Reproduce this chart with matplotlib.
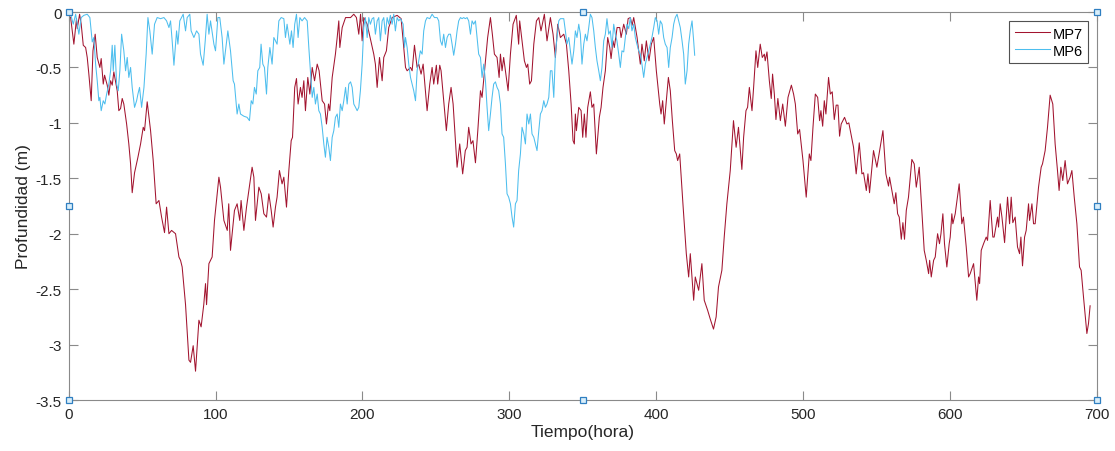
import matplotlib
matplotlib.use("Agg")
import matplotlib.pyplot as plt
from matplotlib.ticker import FuncFormatter

# MP7 series (hours, depth in m)
mp7_horas = [
    0, 1.4, 3.6, 5.4, 5.9, 7.5, 8.6, 10, 11.6, 12.7,
    13.8, 15.4, 16.6, 18.1, 19.5, 21.3, 22.2, 23.6, 24.5, 26.3,
    27.4, 28.6, 29.7, 30.8, 33.1, 34.2, 35.4, 36.5, 37.6, 39.5,
    41, 42.2, 43.3, 44.9, 47.2, 49, 50.8, 51.7, 53.5, 55.8,
    57.6, 59.6, 61.5, 63.3, 65.3, 66.7, 68.3, 70.1, 72.8, 75.1,
    76.2, 77.3, 79.6, 81.9, 83, 84.8, 86.4, 88.7, 90.2, 92,
    93.2, 93.9, 95.5, 97.7, 99.3, 102.3, 103.4, 105.7, 108, 109,
    110.2, 112.9, 114.7, 116.5,
    117.4, 119.3, 121.1, 122.7, 124.9, 126.1, 127.2, 129.5, 131.1, 132.9,
    134.7, 136.3, 137.9, 139.2, 140.8, 141.9, 143.5, 145.3, 146.5, 148.3,
    149.9, 151.5, 152.4, 153.9, 155.1, 156.2, 157.8, 158.9, 160.1, 161.2,
    162.8, 164.2, 165.8, 167.4, 169.2, 170.5, 172.6, 174.2, 175.5, 176.9,
    177.8, 179.4, 181.6, 182.8, 183.9, 184.6, 186.2, 188.5, 191.9, 194.1,
    195.9, 197.5, 198.7, 199.8, 200.9, 203.2, 207.7, 208.8, 210, 211.6,
    213.4, 214.5, 216.3, 217.9, 220.2, 223.6, 226.3, 227.7, 229.3, 230.4,
    232.7, 233.8, 235.4, 237.2, 238.3, 239.9, 241.3, 244, 245.8, 247.4,
    248.5, 250.3, 251.2, 252.6, 253.5, 255.3, 257.1, 258.7, 260.3, 261.7,
    264.4, 266.2, 268.2, 270, 271.2, 272.3, 273.9, 275.2, 276.9, 278.5,
    280.3, 281.4, 283.7, 285.2, 287.1, 288.4, 289.8, 291.6, 293, 293.9,
    295, 296.1, 297.7, 299.1, 300.7, 302.5, 304.7, 306.3, 307, 308.6,
    310.2, 311.6, 312.5, 313.8, 315, 316.6, 318.4, 320, 321.5, 323.8,
    325.6, 327.9, 329.7, 331.3, 332.9, 334.7, 337, 338.8, 340.4, 342,
    343.3, 344.2,
    344.9, 345.6, 347.2, 348.8, 349.9, 351, 352.1, 353.3,
    355.1, 356.2, 357.4, 359.2, 361.2, 362.4, 363.7, 365.3, 366.9, 368.3,
    369.2, 370.5, 371.4, 373.3, 375.1, 376, 377.8, 379.6, 380.8, 382.3,
    383.5, 384.6, 386.9, 389.1, 390.2, 391.8, 393.2, 395, 396.6, 398.2,
    400, 402.3, 403.2, 404.3, 405.4, 406.6, 408.2, 409.5, 410.9, 412.5,
    413.6, 414.5, 415.9, 418.1, 420.4, 422, 423.1, 425.4, 426.5, 428.8,
    431, 432.6, 434.9, 436.7, 438.9, 440.7, 442.3, 444.6, 446.2, 448,
    450.3, 452.5, 454.3, 455.9, 458.2,
    459.4, 461, 462.1, 463.3, 465.1, 466.2, 467.8, 469, 470.7, 472.1,
    473.5, 474.1, 475.3, 476.9, 478.2, 479.1, 480.3, 481.4, 482.7, 484.4,
    486, 487.8, 489.6, 491.9, 493.4, 494.6, 496.2, 497.5, 499.8, 502,
    504.1, 505.2, 506.6, 508.2, 509.8, 511.1, 512, 513.2, 514.3, 515.4,
    517.2, 518.4, 519.7, 521.1, 522.4, 523.6, 524.7, 525.8, 528.1, 529.7,
    531, 534.2, 536, 538.1, 539.9, 541, 542.9, 544, 545.1, 547.8,
    550.1, 554.2, 556.2, 558, 558.7, 561.9, 563, 564.2, 565.3, 566.7,
    567.8, 568.9, 570.1, 571.6, 573.9, 575.5, 576.9, 578.9,
    580.7, 582.3, 583.7, 585.3, 586, 587.1, 588.7, 589.8, 591.4, 592.7,
    593.7, 595, 596.1, 597.7, 599.3, 600, 601.1, 601.8, 603.4, 606.1,
    607.9, 609, 610.9, 612.5, 613.6, 615.9, 618.1, 619.3, 620, 621.1,
    622.7, 624.5, 625.4, 627.2, 629, 629.9, 632.2, 632.9, 634, 635.2,
    637, 639, 640.4, 641.5, 642.6, 644.2, 645.8, 647.2, 648.1, 649.2,
    650.6, 651.7, 653.3, 654, 655.6, 656.7, 657.8, 660.1, 661.9, 662.8,
    664.6, 666.2, 668, 669.8, 671.4, 673, 674.1, 675.3, 676.6, 678.2,
    679.8, 681.6, 682.8, 684.4, 686.2, 688, 689.1, 690.7, 693, 694.1,
    695.2,
]
mp7_prof = [
    -0.03, -0.05, -0.29, -0.06, -0.15, -0.02, -0.11, -0.30, -0.32, -0.41,
    -0.56, -0.80, -0.35, -0.20, -0.41, -0.50, -0.42, -0.65, -0.57, -0.66,
    -0.75, -0.62, -0.66, -0.54, -0.71, -0.89, -0.87, -0.78, -0.83, -1.01,
    -1.19, -1.37, -1.63, -1.45, -1.31, -1.19, -1.04, -1.07, -0.81, -1.07,
    -1.34, -1.73, -1.70, -1.85, -1.99, -1.76, -2.00, -1.97, -2.00, -2.21,
    -2.24, -2.30, -2.64, -3.14, -3.16, -3.01, -3.24, -2.78, -2.84, -2.64,
    -2.45, -2.64, -2.27, -2.21, -1.88, -1.49, -1.58, -1.88, -1.97, -1.73,
    -2.15, -1.79, -1.73, -1.88,
    -1.70, -1.97, -1.76, -1.61, -1.40, -1.49, -1.88, -1.58, -1.64, -1.82,
    -1.85, -1.64, -1.79, -1.94, -1.76, -1.67, -1.43, -1.55, -1.49, -1.76,
    -1.43, -1.16, -1.13, -0.68, -0.60, -0.83, -0.68, -0.77, -0.62, -0.89,
    -0.59, -0.74, -0.50, -0.62, -0.47, -0.53, -0.80, -0.83, -1.01, -0.83,
    -0.89, -0.59, -0.38, -0.23, -0.08, -0.32, -0.14, -0.05, -0.05, -0.02,
    -0.05, -0.20, -0.02, -0.26, -0.05, -0.11, -0.38, -0.47, -0.68, -0.41,
    -0.62, -0.41, -0.35, -0.14, -0.05, -0.03, -0.06, -0.26, -0.50, -0.53,
    -0.50, -0.53, -0.30, -0.50, -0.47, -0.56, -0.47, -0.89, -0.65, -0.50,
    -0.65, -0.48, -0.65, -0.48, -0.53, -0.80, -1.07, -0.83, -0.68, -0.83,
    -1.40, -1.19, -1.46, -1.25, -1.22, -1.04, -1.19, -1.16, -1.36, -1.07,
    -0.71, -0.77, -0.44, -0.23, -0.05, -0.20, -0.38, -0.41, -0.59, -0.38,
    -0.53, -0.41, -0.57, -0.71, -0.38, -0.11, -0.03, -0.29, -0.08, -0.26,
    -0.44, -0.50, -0.47, -0.65, -0.62, -0.29, -0.08, -0.05, -0.17, -0.02,
    -0.26, -0.05, -0.20, -0.41, -0.11, -0.23, -0.20, -0.29, -0.53, -0.83,
    -1.16, -1.19,
    -0.92, -1.07, -0.86, -0.89, -1.13, -0.92, -1.13, -0.86,
    -0.72, -0.86, -0.83, -1.28, -0.95, -0.86, -0.68, -0.53, -0.23, -0.32,
    -0.42, -0.26, -0.32, -0.14, -0.14, -0.23, -0.11, -0.20, -0.06, -0.05,
    -0.12, -0.05, -0.23, -0.47, -0.29, -0.44, -0.26, -0.44, -0.29, -0.23,
    -0.53, -0.83, -0.92, -0.80, -1.01, -0.83, -0.59, -0.71, -0.98, -1.25,
    -1.28, -1.34, -1.28, -1.73, -2.18, -2.39, -2.18, -2.60, -2.39, -2.51,
    -2.27, -2.60, -2.69, -2.77, -2.86, -2.75, -2.48, -2.33, -2.03, -1.73,
    -1.43, -0.98, -1.22, -1.04, -1.42,
    -1.13, -0.89, -0.86, -0.68, -0.89, -0.68, -0.35, -0.50, -0.29, -0.41,
    -0.38, -0.44, -0.36, -0.62, -0.78, -0.56, -0.74, -0.97, -0.78, -0.98,
    -0.83, -1.03, -0.77, -0.66, -0.74, -0.83, -1.10, -1.06, -1.34, -1.67,
    -1.28, -1.34, -1.04, -0.74, -0.77, -0.98, -0.89, -1.03, -0.80, -0.92,
    -0.59, -0.74, -0.72, -0.97, -0.84, -0.84, -1.12, -1.01, -0.95, -1.01,
    -1.00, -1.22, -1.46, -1.18, -1.46, -1.45, -1.61, -1.46, -1.63, -1.25,
    -1.40, -1.07, -1.46, -1.57, -1.49, -1.73, -1.63, -1.82, -1.85, -2.05,
    -1.90, -2.05, -1.79, -1.67, -1.33, -1.37, -1.58, -1.40,
    -1.79, -2.15, -2.24, -2.36, -2.24, -2.39, -2.24, -2.21, -2.00, -2.09,
    -2.00, -1.82, -2.09, -2.30, -2.09, -2.03, -1.82, -1.91, -1.82, -1.55,
    -1.91, -1.85, -2.12, -2.39, -2.36, -2.27, -2.60, -2.39, -2.45, -2.15,
    -2.09, -2.03, -2.06, -1.70, -2.03, -2.03, -1.85, -1.94, -1.73, -1.85,
    -2.08, -1.67, -1.91, -1.67, -1.90, -1.85, -2.12, -2.18, -2.03, -2.29,
    -2.03, -1.97, -1.73, -1.88, -1.73, -1.91, -1.91, -1.58, -1.40, -1.37,
    -1.25, -1.04, -0.75, -0.83, -1.19, -1.43, -1.61, -1.40, -1.52, -1.34,
    -1.55, -1.49, -1.43, -1.67, -1.91, -2.30, -2.33, -2.57, -2.90, -2.81,
    -2.65,
]

# MP6 series (hours, depth in m)
mp6_horas = [
    0, 1.4, 3.2, 4.8, 5.9, 7, 8.6, 10.4, 12.7, 14.5,
    16.1, 17.2, 18.4, 19.5, 20.6, 21.3, 22.2, 23.6, 24.7, 25.9,
    27.4, 28.6, 29.7, 30.4, 31.5, 32.7, 33.8, 34.9, 36.1, 37.6,
    38.8, 39.9, 41, 42.2, 43.3, 44.9, 46.3, 47.2, 48.3, 49.7,
    51.3, 52.8, 54, 55.3, 56.9, 58.5, 60.3, 62.6, 64.9, 66.7,
    68.3, 69.4, 70.5, 71.7, 73.5, 74.4, 75.7, 78, 79.6, 80.7,
    82.5, 83.4, 85.3, 87.1, 88.7, 89.8, 91.6, 93, 94.3, 95.5,
    96.6, 98.9, 100, 101.6, 102.9, 104.5, 105.7, 107.3, 108.4, 110.2,
    112, 112.9, 114.7,
    115.9, 117, 119.3, 121.5, 123.1, 124.3, 125.4, 126.5, 127.7, 128.8,
    130.1, 131, 132.2, 133.3, 134.7, 135.6, 137, 138.5, 139.7, 140.8,
    141.9, 143.1, 144.7, 146.5, 147.6, 148.7, 150.6, 151.7, 152.8, 153.9,
    155.1, 156.2, 157.4, 158.9, 160.6, 162.4, 163.5, 164.6, 165.8, 166.9,
    168, 169.2, 170.3, 171.4, 172.6, 173.7, 174.8, 175.9, 177.1, 178.2,
    179.4, 180.5, 181.6, 182.8, 183.9, 185, 186.2, 187.3, 188.5, 189.6,
    190.7, 191.9, 193, 194.1, 195.3, 196.4, 197.5, 198.6, 199.8, 200.9,
    202, 203.2, 204.3, 205.4, 206.6, 207.7, 208.8, 210, 211.1, 212.2,
    213.4, 214.5, 215.6, 216.8, 217.9, 219, 220.2, 221.3, 222.4, 223.6,
    224.7, 225.9,
    227.7, 228.6, 229.3, 230.4, 231.5, 232.7, 233.8, 234.9, 236.1, 237.2,
    238.3, 239.4, 240.6, 241.7, 242.9, 244, 245.8, 247.4, 249, 250.8,
    251.9, 253.1, 254.2, 255.3, 256.5, 257.6, 258.7, 259.9, 261, 262.1,
    263.3, 264.4, 265.5, 266.7, 267.8, 268.9, 270, 271.2, 272.3, 273.5,
    274.6, 275.7, 276.9, 278, 279.1, 280.3, 281.4, 282.5, 283.7, 284.8,
    285.9, 287.1, 288.2, 289.3, 290.5, 291.6, 292.7, 293.9, 295, 296.1,
    297.3, 298.4, 299.5, 300.7, 301.8, 302.9, 304.1, 305.2, 306.3, 307.5,
    308.6, 309.8, 310.9, 312, 313.2, 314.3, 315.4, 316.6, 317.7, 318.8,
    320, 321.1, 322.2, 323.4, 324.5, 325.6, 326.8, 327.9, 329, 330.2,
    331.3, 332.4, 333.6, 334.7, 337, 338.1, 339.2, 340.4,
    342.6, 343.8, 344.9, 346, 347.2, 348.3, 349.4, 350.6, 351.7, 352.8,
    354, 355.1, 356.2, 357.4, 358.5, 359.6, 360.8, 361.9, 363, 364.2,
    365.3, 366.4, 367.6, 368.7, 369.8, 371, 372.1, 373.2, 374.4, 375.5,
    376.6, 377.8, 378.9, 380, 381.2, 382.3, 383.4, 384.6, 385.7, 386.8,
    388, 389.1, 390.2, 391.4, 392.5, 393.6, 394.8, 395.9, 397, 398.2,
    399.3, 400.5, 401.6, 402.7, 403.9, 405, 406.1, 407.3, 408.4, 409.5,
    410.7, 411.8, 412.9, 414.1, 415.2, 416.3, 417.5, 418.6, 419.7, 420.9,
    422, 423.1, 424.3, 425.4, 426.1,
]
mp6_prof = [
    -0.02, -0.02, -0.11, -0.02, -0.11, -0.20, -0.05, -0.03, -0.02, -0.05,
    -0.27, -0.23, -0.47, -0.62, -0.80, -0.77, -0.89, -0.80, -0.83, -0.74,
    -0.65, -0.53, -0.30, -0.53, -0.30, -0.65, -0.71, -0.53, -0.20, -0.35,
    -0.53, -0.41, -0.59, -0.50, -0.68, -0.86, -0.80, -0.74, -0.68, -0.86,
    -0.68, -0.38, -0.05, -0.17, -0.38, -0.11, -0.05, -0.06, -0.05, -0.08,
    -0.14, -0.08, -0.26, -0.48, -0.17, -0.29, -0.08, -0.02, -0.17, -0.05,
    -0.02, -0.17, -0.23, -0.17, -0.20, -0.38, -0.48, -0.26, -0.02, -0.20,
    -0.08, -0.29, -0.35, -0.05, -0.05, -0.23, -0.47, -0.29, -0.17, -0.35,
    -0.62, -0.65, -0.92,
    -0.83, -0.92, -0.94, -0.95, -0.98, -0.80, -0.83, -0.68, -0.74, -0.53,
    -0.50, -0.29, -0.47, -0.50, -0.74, -0.50, -0.32, -0.47, -0.23, -0.26,
    -0.29, -0.08, -0.05, -0.06, -0.23, -0.11, -0.29, -0.17, -0.32, -0.11,
    -0.02, -0.23, -0.05, -0.08, -0.05, -0.08, -0.32, -0.53, -0.77, -0.68,
    -0.83, -0.74, -0.89, -0.92, -1.04, -1.19, -1.31, -1.13, -1.22, -1.34,
    -1.13, -1.07, -0.95, -0.92, -1.04, -0.83, -0.89, -0.80, -0.68, -0.83,
    -0.65, -0.63, -0.68, -0.83, -0.86, -0.89, -0.86, -0.71, -0.47, -0.14,
    -0.05, -0.23, -0.05, -0.11, -0.06, -0.05, -0.20, -0.08, -0.05, -0.26,
    -0.08, -0.05, -0.20, -0.05, -0.11, -0.03, -0.11, -0.02, -0.17, -0.05,
    -0.08, -0.06,
    -0.11, -0.32, -0.23, -0.32, -0.47, -0.59, -0.65, -0.71, -0.80, -0.53,
    -0.44, -0.35, -0.38, -0.17, -0.08, -0.05, -0.06, -0.02, -0.05, -0.05,
    -0.08, -0.26, -0.30, -0.20, -0.32, -0.23, -0.20, -0.20, -0.29, -0.39,
    -0.29, -0.17, -0.08, -0.05, -0.06, -0.05, -0.06, -0.05, -0.08, -0.20,
    -0.08, -0.11, -0.08, -0.23, -0.38, -0.41, -0.59, -0.47, -0.62, -0.86,
    -1.07, -0.92, -0.77, -0.65, -0.63, -0.68, -0.71, -0.83, -1.10, -1.13,
    -1.37, -1.64, -1.67, -1.73, -1.85, -1.94, -1.73, -1.70, -1.43, -1.28,
    -1.04, -1.10, -1.19, -0.92, -1.01, -0.92, -1.10, -1.13, -1.19, -1.25,
    -1.07, -0.92, -0.89, -0.80, -0.86, -0.83, -0.77, -0.53, -0.53, -0.77,
    -0.38, -0.23, -0.08, -0.06, -0.06, -0.17, -0.29, -0.23,
    -0.47, -0.35, -0.17, -0.23, -0.11, -0.20, -0.47, -0.29, -0.20, -0.26,
    -0.14, -0.02, -0.05, -0.17, -0.32, -0.44, -0.53, -0.62, -0.50, -0.26,
    -0.20, -0.06, -0.20, -0.17, -0.32, -0.11, -0.20, -0.26, -0.38, -0.50,
    -0.35, -0.36, -0.23, -0.11, -0.15, -0.05, -0.17, -0.11, -0.23, -0.29,
    -0.35, -0.38, -0.47, -0.59, -0.47, -0.41, -0.35, -0.29, -0.23, -0.14,
    -0.05, -0.08, -0.20, -0.08, -0.11, -0.23, -0.29, -0.32, -0.50, -0.32,
    -0.23, -0.11, -0.05, -0.02, -0.08, -0.14, -0.26, -0.38, -0.65, -0.53,
    -0.29, -0.17, -0.08, -0.26, -0.39,
]

x_ticks = [0, 100, 200, 300, 400, 500, 600, 700]
y_ticks = [0, -0.5, -1, -1.5, -2, -2.5, -3, -3.5]

plt.rcParams['font.family'] = ['Liberation Sans', 'DejaVu Sans']
plt.rcParams['axes.unicode_minus'] = False

fig = plt.figure(figsize=(11.15, 4.52), dpi=100)
ax = fig.add_axes([0.0615, 0.1128, 0.9225, 0.8584])

ax.plot(mp7_horas, mp7_prof, color='#A2142F', lw=0.75, label='MP7')
ax.plot(mp6_horas, mp6_prof, color='#4DBEEE', lw=0.75, label='MP6')

ax.set_xlim(0, 700)
ax.set_ylim(-3.5, 0)
ax.set_xticks(x_ticks)
ax.set_yticks(y_ticks)
ax.yaxis.set_major_formatter(FuncFormatter(lambda v, p: '%g' % v))

grey = '#8a8a8a'
for s in ax.spines.values():
    s.set_color(grey)
    s.set_linewidth(0.8)
ax.tick_params(direction='in', length=6.5, width=0.8, color=grey,
               labelsize=11, labelcolor='#262626', top=True, right=True, pad=5)

ax.set_xlabel('Tiempo(hora)', fontsize=12.5, color='#262626', labelpad=2)
ax.set_ylabel('Profundidad (m)', fontsize=12.5, color='#262626', labelpad=3)

leg = ax.legend(loc='upper right', fontsize=10.5, frameon=True, fancybox=False,
                borderaxespad=0.65, handlelength=2.4, handletextpad=0.2,
                borderpad=0.35, labelspacing=0.2)
leg.get_frame().set_edgecolor('#262626')
leg.get_frame().set_linewidth(0.8)

# selection handles (as in the MATLAB figure window)
hx = [0, 0.5, 1, 0, 1, 0, 0.5, 1]
hy = [1, 1, 1, 0.5, 0.5, 0, 0, 0]
ax.plot(hx, hy, 's', transform=ax.transAxes, clip_on=False, ms=4.5,
        mfc='#d9eefa', mec='#2f7fc1', mew=0.9, zorder=10)

fig.savefig('out.png', dpi=100)
